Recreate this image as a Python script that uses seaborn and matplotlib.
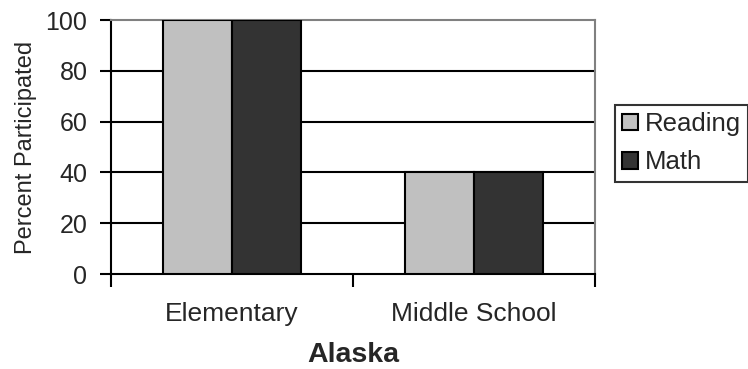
import matplotlib
matplotlib.use("Agg")
import matplotlib.pyplot as plt
import seaborn as sns
import pandas as pd

# Participation by school level
schools = ["Elementary", "Middle School"]
subjects = ["Reading", "Math"]
reading = [100, 40]
math = [100, 40]
subject_colors = ["#c0c0c0", "#333333"]
y_ticks = [0, 20, 40, 60, 80, 100]

df = pd.DataFrame({
    "School": schools * 2,
    "Subject": ["Reading"] * len(schools) + ["Math"] * len(schools),
    "Percent": reading + math,
})

sns.set_theme(style="white")
plt.rcParams["font.family"] = ["Liberation Sans", "DejaVu Sans"]

fig = plt.figure(figsize=(7.48, 3.69), dpi=100)
ax = fig.add_axes([111 / 748, 1 - 274 / 369, (595 - 111) / 748, (274 - 20) / 369])

sns.barplot(data=df, x="School", y="Percent", hue="Subject", order=schools,
            hue_order=subjects, palette=subject_colors, width=0.57, gap=0,
            edgecolor="black", linewidth=1.5, saturation=1, ax=ax, legend=True,
            zorder=3)

ax.set_xlim(-0.5, len(schools) - 0.5)
ax.set_ylim(0, 100)

# horizontal grid lines
for v in y_ticks[1:-1]:
    ax.axhline(v, color="black", lw=1.5, zorder=1)

ax.set_yticks(y_ticks)
ax.set_yticklabels([str(v) for v in y_ticks], fontsize=18)
ax.tick_params(axis="y", direction="out", length=8, width=1.5, color="black",
               left=True, pad=9)

# category boundary ticks, labels at centres
ax.set_xticks([-0.5, 0.5, 1.5])
ax.set_xticklabels(["", "", ""])
ax.set_xticks(range(len(schools)), minor=True)
ax.set_xticklabels(schools, minor=True, fontsize=19)
ax.tick_params(axis="x", which="major", direction="out", length=9, width=1.5,
               color="black", bottom=True)
ax.tick_params(axis="x", which="minor", length=0, pad=20)

for side in ["left", "bottom"]:
    ax.spines[side].set_color("black")
    ax.spines[side].set_linewidth(1.5)
for side in ["top", "right"]:
    ax.spines[side].set_visible(True)
    ax.spines[side].set_color("#808080")
    ax.spines[side].set_linewidth(1.5)

ax.set_ylabel("Percent Participated", fontsize=17, labelpad=6)
ax.set_xlabel("Alaska", fontsize=20.5, fontweight="bold", labelpad=12)

handles, labels = ax.get_legend_handles_labels()
ax.legend_.remove()
leg = fig.legend(handles, labels, loc="upper left",
                 bbox_to_anchor=(615 / 748, 1 - 105 / 369),
                 frameon=True, fancybox=False, fontsize=18.5,
                 handlelength=0.62, handleheight=0.62, handletextpad=0.25,
                 borderpad=0.28, labelspacing=0.55, borderaxespad=0)
leg.get_frame().set_edgecolor("black")
leg.get_frame().set_linewidth(1.5)
for h in leg.legend_handles:
    h.set_edgecolor("black")
    h.set_linewidth(1.5)

fig.savefig("out.png", dpi=100)
